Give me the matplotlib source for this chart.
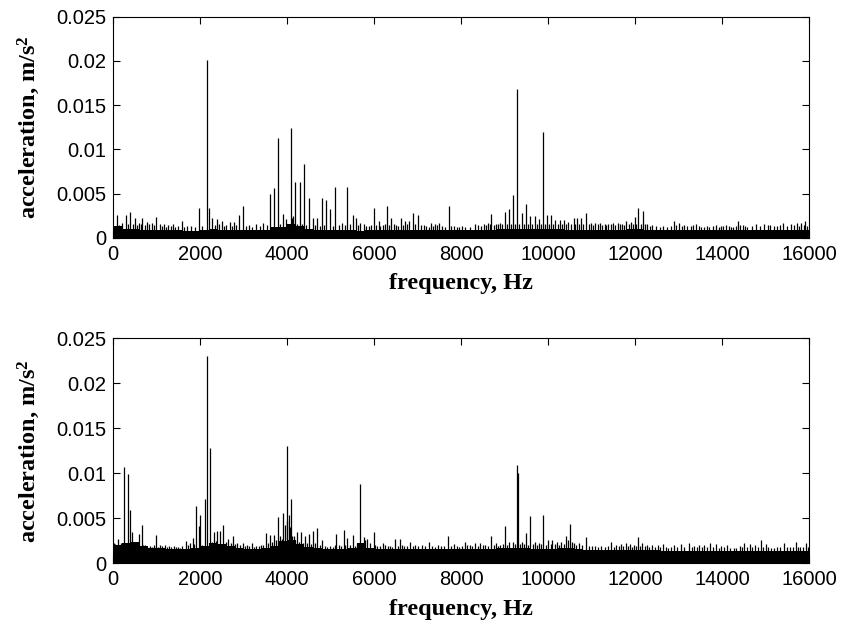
import numpy as np
import matplotlib
matplotlib.use("Agg")
import matplotlib.pyplot as plt

plt.rcParams["mathtext.fontset"] = "custom"
plt.rcParams["mathtext.rm"] = "Liberation Serif:bold"
plt.rcParams["mathtext.default"] = "rm"

# noise floor, one level per 200 Hz bin (units of 1e-4 m/s^2)
BIN_HZ = 200
top_band = [13, 10, 10, 9, 9, 9, 9, 9, 8, 8,
            9, 10, 9, 9, 9, 9, 9, 9, 12, 12,
            15, 13, 10, 9, 9, 9, 9, 9, 8, 9,
            9, 9, 9, 9, 9, 9, 9, 9, 9, 9,
            9, 9, 9, 9, 10, 10, 10, 10, 10, 10,
            10, 10, 9, 9, 9, 9, 9, 9, 9, 10,
            10, 9, 9, 9, 9, 9, 9, 9, 9, 9,
            9, 9, 9, 9, 9, 9, 9, 9, 9, 9]
bot_band = [20, 22, 24, 19, 17, 17, 16, 16, 16, 17,
            19, 22, 21, 19, 17, 16, 16, 17, 19, 25,
            26, 21, 18, 17, 16, 16, 16, 17, 22, 17,
            16, 16, 16, 16, 16, 16, 16, 16, 16, 16,
            16, 16, 16, 16, 17, 17, 17, 17, 16, 16,
            16, 17, 17, 16, 15, 15, 15, 15, 15, 15,
            15, 15, 15, 14, 14, 14, 14, 14, 14, 14,
            14, 14, 14, 14, 14, 14, 14, 14, 14, 14]

# spectral lines above the floor (Hz, m/s^2)
top_f = [100, 200, 300, 405, 505, 600, 680, 775, 890, 990, 1080, 1180, 1270,
         1390, 1490, 1580, 1710, 1795, 1970, 2160, 2220, 2290, 2400, 2500,
         2600, 2690, 2780, 2900, 3000, 3120, 3290, 3460, 3610, 3700, 3785,
         3900, 3990, 4090, 4120, 4140, 4180, 4300, 4390, 4500, 4590, 4700,
         4800, 4900, 4990, 5100, 5200, 5275, 5380, 5510, 5595, 5686, 5763,
         5880, 6000, 6108, 6200, 6307, 6400, 6500, 6614, 6720, 6813, 6890,
         7012, 7140, 7318, 7410, 7503, 7717, 7830, 7960, 8100, 8315, 8522,
         8610, 8698, 8800, 8900, 9005, 9096, 9188, 9288, 9403, 9495, 9595,
         9690, 9786, 9886, 9977, 10077, 10170, 10270, 10360, 10460, 10591,
         10660, 10760, 10866, 10990, 11090, 11200, 11300, 11380, 11500, 11600,
         11700, 11801, 11900, 11993, 12077, 12184, 12280, 12400, 12570, 12740,
         12897, 13010, 13130, 13280, 13400, 13580, 13710, 13860, 13970, 14090,
         14200, 14368, 14470, 14580, 14770, 14960, 15110, 15270, 15400, 15590,
         15710, 15820, 15909]
top_a = [.0026, .0017, .0026, .0029, .0022, .0017, .0022, .0018, .0017, .0024,
         .0016, .0015, .0014, .0015, .0013, .0019, .0013, .0013, .0034, .0201,
         .0034, .0022, .0021, .0019, .0014, .0018, .0018, .0026, .0036, .0014,
         .0016, .0017, .0049, .0056, .0113, .0027, .0021, .0124, .0022, .0025,
         .0063, .0063, .0083, .0045, .0022, .0022, .0045, .0043, .0033, .0057,
         .0014, .0017, .0057, .0026, .0022, .0017, .0016, .0013, .0034, .0019,
         .0014, .0036, .0022, .0014, .0022, .0019, .0019, .0028, .0026, .0014,
         .0017, .0015, .0017, .0036, .0013, .0012, .0012, .0016, .0016, .0017,
         .0027, .0015, .0017, .0029, .0032, .0048, .0168, .0028, .0038, .0025,
         .0025, .0021, .0120, .0026, .0026, .0020, .0020, .0020, .0018, .0022,
         .0022, .0022, .0028, .0017, .0017, .0017, .0016, .0016, .0017, .0017,
         .0016, .0019, .0018, .0024, .0034, .0030, .0016, .0014, .0012, .0012,
         .0019, .0017, .0014, .0013, .0016, .0012, .0012, .0014, .0013, .0014,
         .0012, .0019, .0014, .0012, .0016, .0016, .0014, .0013, .0017, .0016,
         .0017, .0017, .0019]

# short tufts sitting on the floor
top_minor_f = [150, 350, 455, 550, 640, 730, 830, 940, 1130, 1230, 1330, 1440,
               1640, 1880, 2050, 2340, 2450, 2550, 2740, 2840, 3060, 3200, 3380,
               3540, 3840, 4230, 4350, 4450, 4650, 4750, 4850, 5050, 5330, 5450,
               5640, 5820, 5940, 6050, 6150, 6250, 6350, 6450, 6560, 6670, 6770,
               6950, 7070, 7200, 7260, 7360, 7460, 7560, 7640, 7770, 7900, 8030,
               8200, 8400, 8460, 8570, 8660, 8750, 8850, 8950, 9050, 9140, 9240,
               9340, 9450, 9540, 9640, 9740, 9840, 9930, 10030, 10120, 10220,
               10320, 10410, 10520, 10620, 10710, 10810, 10930, 11040, 11150,
               11250, 11340, 11440, 11550, 11650, 11750, 11850, 11950, 12030,
               12130, 12230, 12340, 12470, 12650, 12820, 12950, 13070, 13200,
               13340, 13460, 13520, 13650, 13790, 13920, 14030, 14150, 14260,
               14310, 14420, 14520, 14680, 14860, 15050, 15190, 15340, 15480,
               15650, 15760, 15870, 15960]
top_minor_a = [.0014, .0015, .0016, .0014, .0015, .0014, .0015, .0014, .0013,
               .0012, .0013, .0012, .0012, .0012, .0013, .0014, .0015, .0013,
               .0013, .0014, .0013, .0012, .0013, .0014, .0016, .0016, .0015,
               .0014, .0014, .0013, .0014, .0013, .0014, .0015, .0014, .0013,
               .0014, .0014, .0013, .0015, .0014, .0015, .0013, .0014, .0015,
               .0015, .0014, .0013, .0012, .0013, .0014, .0013, .0012, .0013,
               .0012, .0013, .0012, .0014, .0013, .0014, .0015, .0014, .0015,
               .0016, .0015, .0016, .0015, .0016, .0015, .0016, .0015, .0015,
               .0015, .0016, .0016, .0015, .0016, .0015, .0016, .0015, .0016,
               .0016, .0015, .0015, .0014, .0015, .0014, .0014, .0015, .0014,
               .0015, .0014, .0015, .0015, .0016, .0015, .0015, .0013, .0013,
               .0013, .0013, .0014, .0013, .0013, .0014, .0013, .0012, .0013,
               .0013, .0012, .0013, .0013, .0012, .0013, .0014, .0013, .0013,
               .0013, .0014, .0013, .0014, .0013, .0014, .0013, .0014, .0013]

bot_f = [20, 122, 253, 300, 352, 406, 452, 506, 605, 659, 740, 850, 989, 1080,
         1190, 1290, 1400, 1500, 1600, 1680, 1770, 1832, 1908, 1970, 2000,
         2060, 2122, 2161, 2222, 2322, 2400, 2460, 2537, 2650, 2767, 2850,
         2996, 3090, 3190, 3290, 3400, 3518, 3610, 3700, 3786, 3880, 3916,
         3950, 3993, 4010, 4040, 4060, 4092, 4120, 4160, 4223, 4315, 4410,
         4500, 4590, 4698, 4800, 4930, 5050, 5127, 5200, 5303, 5380, 5510,
         5600, 5686, 5760, 5850, 5993, 6080, 6200, 6320, 6420, 6491, 6606,
         6700, 6820, 6950, 7100, 7273, 7400, 7550, 7702, 7830, 7960, 8085,
         8200, 8320, 8430, 8550, 8698, 8800, 8900, 9005, 9100, 9190, 9280,
         9311, 9400, 9495, 9595, 9700, 9790, 9886, 10010, 10100, 10200, 10300,
         10415, 10506, 10600, 10700, 10882, 11000, 11150, 11300, 11456, 11560,
         11680, 11780, 11880, 11980, 12069, 12170, 12270, 12400, 12520, 12640,
         12750, 12900, 13050, 13240, 13350, 13480, 13590, 13720, 13850, 13980,
         14110, 14270, 14400, 14510, 14630, 14750, 14889, 15000, 15120, 15270,
         15420, 15560, 15694, 15800, 15924]
bot_a = [.0022, .0027, .0107, .0022, .0099, .0059, .0035, .0022, .0033, .0043,
         .0020, .0019, .0031, .0020, .0020, .0019, .0019, .0018, .0019, .0025,
         .0023, .0028, .0064, .0041, .0054, .0020, .0071, .0230, .0128, .0035,
         .0036, .0036, .0043, .0027, .0030, .0022, .0023, .0020, .0023, .0019,
         .0020, .0034, .0031, .0031, .0051, .0027, .0056, .0042, .0130, .0047,
         .0054, .0040, .0071, .0030, .0030, .0035, .0035, .0030, .0032, .0036,
         .0039, .0026, .0018, .0018, .0033, .0020, .0037, .0028, .0031, .0022,
         .0088, .0029, .0027, .0035, .0019, .0022, .0019, .0018, .0027, .0027,
         .0019, .0024, .0020, .0020, .0024, .0018, .0019, .0030, .0021, .0018,
         .0024, .0020, .0022, .0023, .0020, .0030, .0022, .0020, .0041, .0024,
         .0024, .0109, .0100, .0024, .0034, .0052, .0024, .0022, .0054, .0026,
         .0026, .0024, .0024, .0030, .0044, .0022, .0022, .0029, .0019, .0018,
         .0018, .0024, .0020, .0021, .0022, .0021, .0020, .0029, .0022, .0020,
         .0020, .0020, .0021, .0017, .0020, .0021, .0022, .0019, .0020, .0020,
         .0022, .0021, .0019, .0020, .0017, .0019, .0022, .0021, .0020, .0026,
         .0021, .0017, .0018, .0022, .0018, .0024, .0018, .0023]

bot_minor_f = [60, 180, 560, 700, 790, 900, 950, 1030, 1130, 1240, 1340, 1450,
               1550, 1720, 1860, 2280, 2360, 2590, 2710, 2810, 2920, 3040, 3140,
               3240, 3350, 3460, 3560, 3650, 3740, 3840, 4180, 4270, 4360, 4460,
               4550, 4640, 4750, 4870, 4990, 5100, 5250, 5340, 5450, 5560, 5650,
               5800, 5920, 6030, 6140, 6260, 6370, 6550, 6650, 6760, 6890, 7020,
               7180, 7340, 7470, 7620, 7760, 7900, 8020, 8140, 8260, 8380, 8500,
               8620, 8750, 8850, 8960, 9060, 9230, 9350, 9450, 9550, 9650, 9750,
               9840, 9950, 10060, 10150, 10250, 10360, 10460, 10550, 10650,
               10790, 10950, 11070, 11220, 11380, 11510, 11620, 11730, 11830,
               11930, 12030, 12120, 12220, 12330, 12460, 12580, 12700, 12830,
               12970, 13130, 13300, 13420, 13540, 13650, 13790, 13920, 14050,
               14190, 14330, 14460, 14570, 14690, 14820, 14950, 15060, 15190,
               15340, 15490, 15630, 15750, 15860, 15970]
bot_minor_a = [.0021, .0023, .0021, .0020, .0019, .0018, .0020, .0018, .0019,
               .0018, .0018, .0018, .0017, .0020, .0021, .0024, .0025, .0024,
               .0022, .0021, .0020, .0019, .0019, .0018, .0019, .0020, .0022,
               .0024, .0026, .0030, .0026, .0024, .0022, .0022, .0021, .0022,
               .0020, .0019, .0019, .0020, .0019, .0020, .0020, .0019, .0020,
               .0026, .0022, .0020, .0019, .0020, .0019, .0019, .0020, .0019,
               .0019, .0019, .0019, .0019, .0020, .0019, .0019, .0019, .0019,
               .0020, .0019, .0019, .0020, .0019, .0020, .0019, .0021, .0020,
               .0021, .0021, .0021, .0020, .0021, .0020, .0021, .0020, .0021,
               .0021, .0020, .0021, .0026, .0024, .0020, .0020, .0019, .0019,
               .0019, .0019, .0018, .0019, .0019, .0019, .0018, .0019, .0019,
               .0019, .0018, .0018, .0018, .0018, .0018, .0018, .0018, .0018,
               .0018, .0018, .0018, .0018, .0017, .0018, .0017, .0017, .0018,
               .0018, .0018, .0018, .0018, .0018, .0017, .0018, .0018, .0018,
               .0018, .0018, .0018]

xticks = [0, 2000, 4000, 6000, 8000, 10000, 12000, 14000, 16000]
yticks = [0, 0.005, 0.01, 0.015, 0.02, 0.025]
ytick_labels = ["0", "0.005", "0.01", "0.015", "0.02", "0.025"]

fig = plt.figure(figsize=(8.42, 6.29), dpi=100)
ax_top = fig.add_axes([0.134, 0.622, 0.827, 0.3515])
ax_bot = fig.add_axes([0.134, 0.1045, 0.827, 0.3575])

panels = [(ax_top, top_band, top_f, top_a, top_minor_f, top_minor_a),
          (ax_bot, bot_band, bot_f, bot_a, bot_minor_f, bot_minor_a)]
for ax, band, f, a, mf, ma in panels:
    edges = np.arange(len(band) + 1) * BIN_HZ
    levels = np.array(band + [band[-1]]) * 1e-4
    ax.fill_between(edges, 0, levels, step="post", color="black", lw=0)
    ax.vlines(mf, 0, ma, color="black", lw=0.9)
    ax.vlines(f, 0, a, color="black", lw=0.9)

    ax.set_xlim(0, 16000)
    ax.set_ylim(0, 0.025)
    ax.set_xticks(xticks)
    ax.set_xticklabels([str(t) for t in xticks], family="Liberation Sans", fontsize=14.5)
    ax.set_yticks(yticks)
    ax.set_yticklabels(ytick_labels, family="Liberation Sans", fontsize=14.5)
    ax.tick_params(direction="in", top=True, right=True, length=5, width=0.8, pad=5)
    for s in ax.spines.values():
        s.set_linewidth(0.8)
    ax.set_xlabel("frequency, Hz", family="Liberation Serif", fontweight="bold",
                  fontsize=17.5, labelpad=7)
    ax.set_ylabel("acceleration, m/s$^2$", family="Liberation Serif", fontweight="bold",
                  fontsize=17.5)
    ax.yaxis.set_label_coords(-0.102, 0.5)

fig.savefig("out.png", dpi=100)
